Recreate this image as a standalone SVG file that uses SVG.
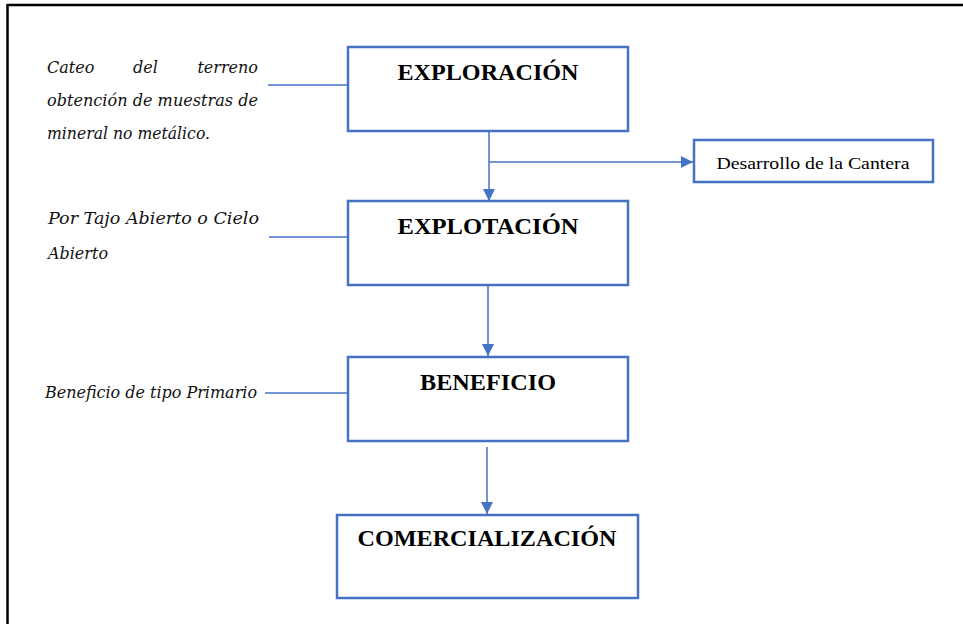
<svg xmlns="http://www.w3.org/2000/svg" width="963" height="624" viewBox="0 0 963 624">
  <style>
    .box { fill: #ffffff; stroke: #4472C4; stroke-width: 2.5; }
    .title { font-family: "Liberation Serif", "Times New Roman", serif; font-weight: bold; font-size: 23px; fill: #000000; text-anchor: middle; }
    .note { font-family: "DejaVu Serif", "Liberation Serif", serif; font-style: italic; font-size: 16px; fill: #111111; }
    .label { font-family: "Liberation Serif", "Times New Roman", serif; font-size: 17px; fill: #000000; text-anchor: middle; }
    .link { fill: none; stroke: #4472C4; stroke-width: 1.5; }
  </style>
  <defs>
    <marker id="arrow" viewBox="0 0 12 12" refX="12" refY="6" markerWidth="12" markerHeight="12" markerUnits="userSpaceOnUse" orient="auto">
      <path d="M0,0 L12,6 L0,12 Z" fill="#4472C4"/>
    </marker>
  </defs>

  <rect width="963" height="624" fill="#ffffff"/>

  <!-- page frame: top and left edges -->
  <g id="frame">
    <line x1="7" y1="5" x2="963" y2="5" stroke="#000000" stroke-width="2.5"/>
    <line x1="7.5" y1="4" x2="7.5" y2="624" stroke="#000000" stroke-width="2.5"/>
  </g>

  <!-- connectors -->
  <g id="connectors">
    <line class="link" x1="268" y1="85" x2="348" y2="85"/>
    <line class="link" x1="269" y1="237" x2="348" y2="237"/>
    <line class="link" x1="265" y1="393" x2="348" y2="393"/>
    <line class="link" x1="489" y1="132" x2="489" y2="201" marker-end="url(#arrow)"/>
    <line class="link" x1="489" y1="162" x2="693" y2="162" marker-end="url(#arrow)"/>
    <line class="link" x1="488" y1="286" x2="488" y2="356" marker-end="url(#arrow)"/>
    <line class="link" x1="487" y1="447" x2="487" y2="514" marker-end="url(#arrow)"/>
  </g>

  <g id="exploracion">
    <rect class="box" x="348" y="47" width="280" height="84"/>
    <text class="title" x="488" y="80" textLength="181" lengthAdjust="spacingAndGlyphs">EXPLORACIÓN</text>
  </g>

  <g id="desarrollo">
    <rect class="box" x="694" y="140" width="239" height="42"/>
    <text class="label" x="813" y="169" textLength="193" lengthAdjust="spacingAndGlyphs">Desarrollo de la Cantera</text>
  </g>

  <g id="explotacion">
    <rect class="box" x="348" y="201" width="280" height="84"/>
    <text class="title" x="488" y="234" textLength="181" lengthAdjust="spacingAndGlyphs">EXPLOTACIÓN</text>
  </g>

  <g id="beneficio">
    <rect class="box" x="348" y="357" width="280" height="84"/>
    <text class="title" x="488" y="390" textLength="136" lengthAdjust="spacingAndGlyphs">BENEFICIO</text>
  </g>

  <g id="comercializacion">
    <rect class="box" x="337" y="515" width="301" height="83"/>
    <text class="title" x="487" y="546" textLength="259" lengthAdjust="spacingAndGlyphs">COMERCIALIZACIÓN</text>
  </g>

  <!-- side notes -->
  <g id="note-exploracion">
    <text class="note" y="73"><tspan x="47">Cateo</tspan><tspan x="133">del</tspan><tspan x="258" text-anchor="end">terreno</tspan></text>
    <text class="note" x="47" y="106" textLength="211" lengthAdjust="spacingAndGlyphs">obtención de muestras de</text>
    <text class="note" x="47" y="139" textLength="163" lengthAdjust="spacingAndGlyphs">mineral no metálico.</text>
  </g>

  <g id="note-explotacion">
    <text class="note" x="48" y="224" textLength="211" lengthAdjust="spacingAndGlyphs">Por Tajo Abierto o Cielo</text>
    <text class="note" x="48" y="259" textLength="60" lengthAdjust="spacingAndGlyphs">Abierto</text>
  </g>

  <g id="note-beneficio">
    <text class="note" x="45" y="398" textLength="212" lengthAdjust="spacingAndGlyphs">Beneficio de tipo Primario</text>
  </g>
</svg>
